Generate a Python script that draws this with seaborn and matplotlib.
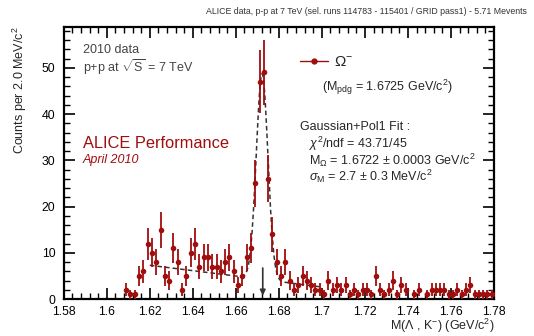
import numpy as np
import pandas as pd
import seaborn as sns
import matplotlib.pyplot as plt
from matplotlib.lines import Line2D
from matplotlib.ticker import MultipleLocator, FuncFormatter

# bin centres (GeV/c^2, 2 MeV bins) and counts
mass = [1.609, 1.611, 1.613, 1.615, 1.617, 1.619, 1.621, 1.623, 1.625, 1.627,
        1.629, 1.631, 1.633, 1.635, 1.637, 1.639, 1.641, 1.643, 1.645, 1.647,
        1.649, 1.651, 1.653, 1.655, 1.657, 1.659, 1.661, 1.663, 1.665, 1.667,
        1.669, 1.671, 1.673, 1.675, 1.677, 1.679, 1.681, 1.683, 1.685, 1.687,
        1.689, 1.691, 1.693, 1.695, 1.697, 1.699, 1.701, 1.703, 1.705, 1.707,
        1.709, 1.711, 1.713, 1.715, 1.717, 1.719, 1.721, 1.723, 1.725, 1.727,
        1.729, 1.731, 1.733, 1.735, 1.737, 1.739, 1.741, 1.743, 1.745, 1.747,
        1.749, 1.751, 1.753, 1.755, 1.757, 1.759, 1.761, 1.763, 1.765, 1.767,
        1.769, 1.771, 1.773, 1.775, 1.777, 1.779]
counts = [2, 1, 1, 5, 6, 12, 10, 8, 15, 5,
          4, 11, 8, 2, 5, 10, 12, 7, 9, 9,
          7, 7, 6, 8, 9, 6, 3, 5, 9, 11,
          25, 47, 49, 26, 14, 8, 5, 8, 4, 2,
          3, 5, 4, 3, 2, 2, 1, 4, 2, 3,
          2, 3, 1, 2, 1, 2, 2, 1, 5, 2,
          1, 2, 4, 1, 3, 2, 0, 1, 2, 0,
          1, 2, 2, 2, 2, 1, 1, 2, 1, 2,
          3, 1, 1, 1, 1, 1]

# fit parameters (Gaussian + pol1)
FIT_RANGE = (1.620, 1.700)
FIT_MEAN = 1.6722
FIT_SIGMA = 0.0027
FIT_AMP = 44.5
BKG_AT_LO = 7.3
BKG_SLOPE = -58.75
M_PDG = 1.6725

red = '#a00d0d'

sns.set_style('ticks')
plt.rcParams['font.family'] = ['Liberation Sans', 'DejaVu Sans']
plt.rcParams['mathtext.fontset'] = 'custom'
plt.rcParams['mathtext.rm'] = 'Liberation Sans'
plt.rcParams['mathtext.it'] = 'Liberation Sans:italic'
plt.rcParams['mathtext.sf'] = 'Liberation Sans'

df = pd.DataFrame({'mass': mass, 'counts': counts})
df = df[df['counts'] > 0].copy()
df['err'] = np.sqrt(df['counts'])

fit_x = np.linspace(FIT_RANGE[0], FIT_RANGE[1], 400)
fit_y = (FIT_AMP * np.exp(-0.5 * ((fit_x - FIT_MEAN) / FIT_SIGMA) ** 2)
         + BKG_AT_LO + BKG_SLOPE * (fit_x - FIT_RANGE[0]))

fig = plt.figure(figsize=(5.34, 3.36), dpi=100)
ax = fig.add_axes([0.1195, 0.110, 0.8055, 0.8095])

sns.lineplot(x=fit_x, y=fit_y, ax=ax, color='#333333', linestyle=(0, (3, 2)),
             linewidth=1.1, zorder=2)
ax.errorbar(df['mass'], df['counts'], yerr=df['err'], fmt='none',
            ecolor=red, elinewidth=1.3, capsize=0, zorder=3)
sns.scatterplot(data=df, x='mass', y='counts', ax=ax, color=red, s=16,
                linewidth=0, zorder=4)

ax.annotate('', xy=(M_PDG, 0.15), xytext=(M_PDG, 7.3),
            arrowprops=dict(arrowstyle='-|>', color='#333333', lw=1.2,
                            mutation_scale=8))

ax.set_xlim(1.58, 1.78)
ax.set_ylim(0, 58.8)
ax.set_xlabel('')
ax.set_ylabel('')
ax.xaxis.set_major_locator(MultipleLocator(0.02))
ax.xaxis.set_minor_locator(MultipleLocator(0.004))
ax.yaxis.set_major_locator(MultipleLocator(10))
ax.yaxis.set_minor_locator(MultipleLocator(2))
ax.xaxis.set_major_formatter(FuncFormatter(lambda v, p: f'{v:g}'))
ax.tick_params(which='both', direction='in', top=True, right=True,
               colors='black', labelsize=8.8)
ax.tick_params(which='major', length=8, width=1.2)
ax.tick_params(which='minor', length=4.5, width=1.0)
ax.tick_params(axis='x', pad=5)
ax.tick_params(axis='y', pad=6)
for s in ax.spines.values():
    s.set_visible(True)
    s.set_linewidth(1.6)
    s.set_color('black')

W, H = 534, 336
def ftext(x, y, s, **kw):
    fig.text(x / W, 1 - y / H, s, **kw)

ftext(527, 12, 'ALICE data, p-p at 7 TeV (sel. runs 114783 - 115401 / GRID pass1) - 5.71 Mevents',
      ha='right', va='center', fontsize=6.3, color='#333333')
ftext(20, 27, r'Counts per 2.0 MeV/c$^{2}$', rotation=90, ha='center', va='top',
      fontsize=9)
ftext(495, 326, r'M($\Lambda$ , K$^{-}$) (GeV/c$^{2}$)', ha='right', va='center',
      fontsize=9)

ftext(83, 50, '2010 data', ha='left', va='center', fontsize=9, color='#444444')
ftext(83, 67, r'p+p at $\sqrt{\rm S}$ = 7 TeV', ha='left', va='center', fontsize=9,
      color='#444444')
ftext(83, 143, 'ALICE Performance', ha='left', va='center', fontsize=11.8, color=red)
ftext(83, 160, 'April 2010', ha='left', va='center', fontsize=9, color=red,
      style='italic')

handle = Line2D([0], [0], color=red, marker='o', markersize=3.5, linewidth=1.0)
ax.legend([handle], [r'$\Omega^{-}$'], loc='center left', frameon=False,
          bbox_to_anchor=(300 / W, 1 - 62 / H), bbox_transform=fig.transFigure,
          borderpad=0, borderaxespad=0, handlelength=1.8, handletextpad=0.4,
          fontsize=11)

ftext(322, 87, r'(M$_{\rm pdg}$ = 1.6725 GeV/c$^{2}$)', ha='left', va='center',
      fontsize=9)
ftext(300, 127, 'Gaussian+Pol1 Fit :', ha='left', va='center', fontsize=9)
ftext(309, 144, r'$\chi^{2}$/ndf = 43.71/45', ha='left', va='center', fontsize=9)
ftext(309, 160, r'M$_{\Omega}$ = 1.6722 $\pm$ 0.0003 GeV/c$^{2}$', ha='left',
      va='center', fontsize=9)
ftext(309, 176, r'$\sigma_{\rm M}$ = 2.7 $\pm$ 0.3 MeV/c$^{2}$', ha='left',
      va='center', fontsize=9)

fig.savefig('out.png', dpi=100)
